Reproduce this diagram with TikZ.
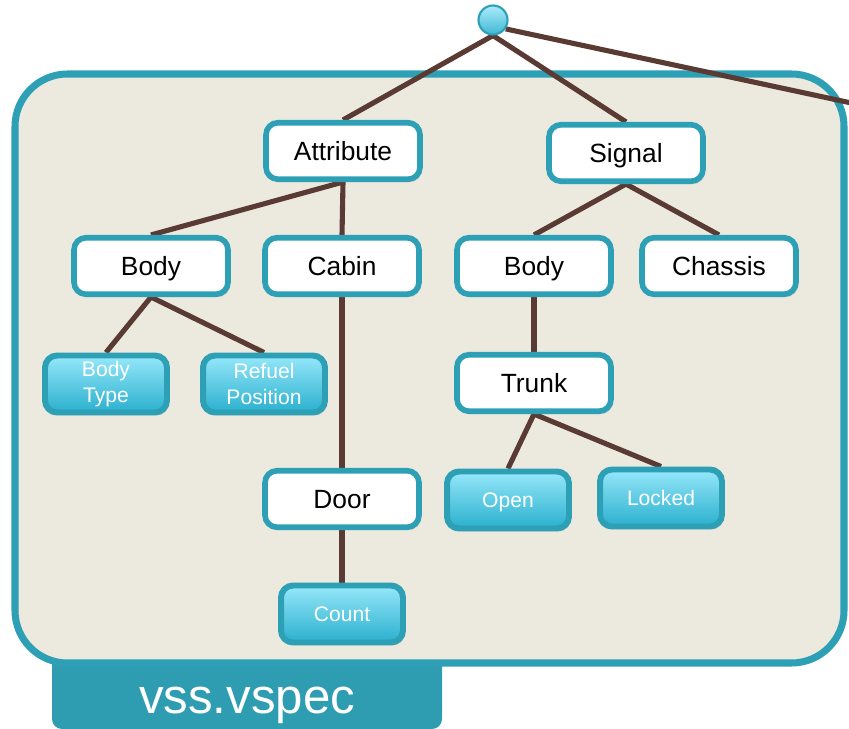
\documentclass[tikz,border=0pt]{standalone}
\usepackage{fontspec}
\setmainfont{Liberation Sans}
\usetikzlibrary{backgrounds, shadows}

\definecolor{vssteal}{HTML}{2DA0B6}
\definecolor{vsstab}{HTML}{2E9DB1}
\definecolor{vssbrown}{HTML}{5A3B33}
\definecolor{vssbg}{HTML}{ECE9DF}
\definecolor{leaftop}{HTML}{96E7FA}
\definecolor{leafbot}{HTML}{2AB0CE}

\begin{document}
\begin{tikzpicture}[
  x=0.02cm, y=-0.02cm,
  catnode/.style={
    draw=vssteal,
    fill=white,
    line width=3.2pt,
    rounded corners=0.24cm,
    minimum width=3.08cm,
    minimum height=1.13cm,
    text height=10.7pt,
    text depth=0pt,
    font=\fontsize{15}{18}\selectfont,
    drop shadow={opacity=0.2, shadow xshift=0.04cm, shadow yshift=-0.06cm}
  },
  leafnode/.style={
    draw=vssteal,
    top color=leaftop,
    bottom color=leafbot,
    line width=3.4pt,
    rounded corners=0.24cm,
    minimum width=2.44cm,
    minimum height=1.14cm,
    align=center,
    text=white,
    font=\fontsize{12}{14.4}\selectfont,
    drop shadow={opacity=0.2, shadow xshift=0.04cm, shadow yshift=-0.06cm}
  },
  leafline/.style={leafnode, text height=8.6pt, text depth=0pt},
  link/.style={draw=vssbrown, line width=2.9pt}
]
\useasboundingbox (0,0) rectangle (849,729);

% --- Root ---
\node[circle, draw=vssteal, line width=1.2pt, top color=leaftop!80!white,
      bottom color=leafbot!90!white, minimum size=0.58cm, inner sep=0pt]
      (root) at (493,20) {};
\coordinate (rootR) at (870,107);

% --- Category nodes ---
\node[catnode] (attr)    at (343,151) {Attribute};
\node[catnode] (signal)  at (626,153) {Signal};
\node[catnode] (bodyA)   at (151,266) {Body};
\node[catnode] (cabin)   at (342,266) {Cabin};
\node[catnode] (bodyS)   at (534,266) {Body};
\node[catnode] (chassis) at (719,266) {Chassis};
\node[catnode] (trunk)   at (534,383) {Trunk};
\node[catnode] (door)    at (342,499) {Door};

% --- Leaf nodes ---
\node[leafnode] (bodytype) at (106,384) {Body\\Type};
\node[leafnode] (refuel)   at (264,384) {Refuel\\Position};
\node[leafline] (open)     at (508,500) {Open};
\node[leafline] (locked)   at (661,498) {Locked};
\node[leafline] (count)    at (342,614) {Count};

% --- File label ---
\node[text=white, anchor=base, font=\fontsize{28}{32}\selectfont] (spec) at (247,713) {vss.vspec};

\begin{scope}[on background layer]
  % tab under the frame
  \fill[vsstab, rounded corners=0.2cm] (52,640) rectangle (442,729);
  % frame
  \draw[draw=vssteal, fill=vssbg, line width=4pt, rounded corners=1.05cm,
        drop shadow={opacity=0.15, shadow xshift=0.04cm, shadow yshift=-0.06cm}]
    (15,74) rectangle (844,663);

  % --- Links ---
  \draw[link] (root.-35)   -- (rootR);
  \draw[link] (root.south) -- (attr.north);
  \draw[link] (root.south) -- (signal.north);
  \draw[link] (attr.south) -- (bodyA.north);
  \draw[link] (attr.south) -- (cabin.north);
  \draw[link] (signal.south) -- (bodyS.north);
  \draw[link] (signal.south) -- (chassis.north);
  \draw[link] (bodyA.south) -- (bodytype.north);
  \draw[link] (bodyA.south) -- (refuel.north);
  \draw[link] (cabin.south) -- (door.north);
  \draw[link] (door.south)  -- (count.north);
  \draw[link] (bodyS.south) -- (trunk.north);
  \draw[link] (trunk.south) -- (open.north);
  \draw[link] (trunk.south) -- (locked.north);
\end{scope}

\end{tikzpicture}
\end{document}
